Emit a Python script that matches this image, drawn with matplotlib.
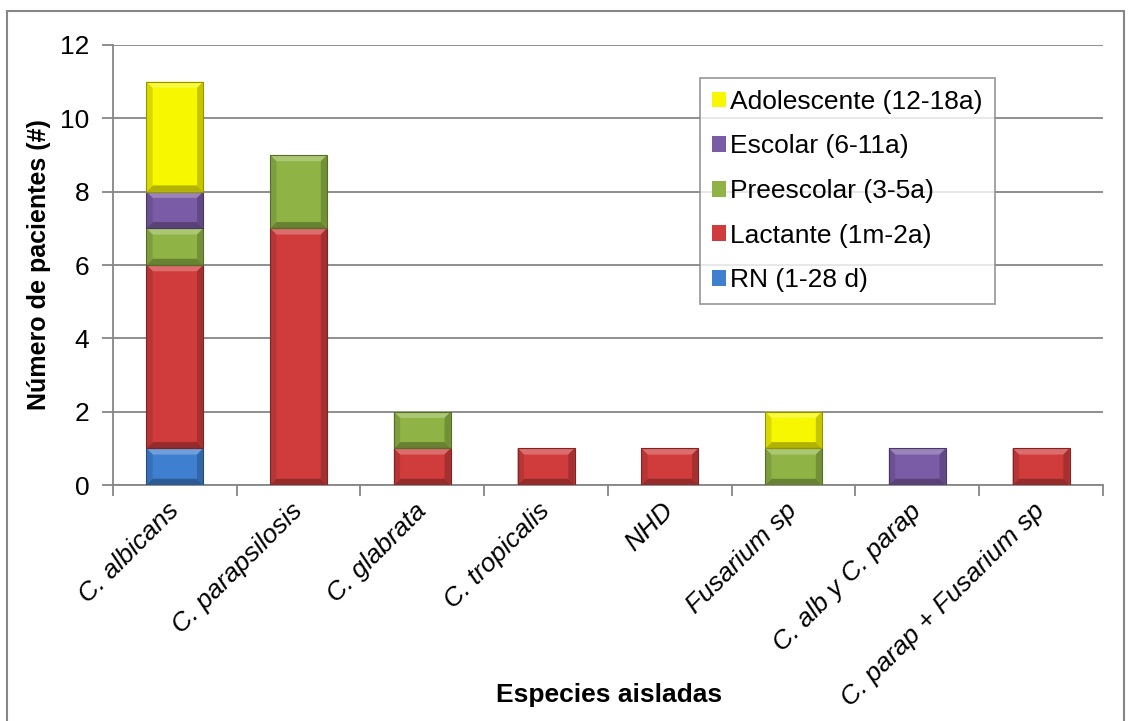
import matplotlib.pyplot as plt
import matplotlib.colors as mcolors
from matplotlib.patches import Polygon, Rectangle

plt.rcParams["font.family"] = ["Liberation Sans", "DejaVu Sans"]

species = ["C. albicans", "C. parapsilosis", "C. glabrata", "C. tropicalis",
           "NHD", "Fusarium sp", "C. alb y C. parap", "C. parap + Fusarium sp"]

rn = [1, 0, 0, 0, 0, 0, 0, 0]
lactante = [5, 7, 1, 1, 1, 0, 0, 1]
preescolar = [1, 2, 1, 0, 0, 1, 0, 0]
escolar = [1, 0, 0, 0, 0, 0, 1, 0]
adolescente = [3, 0, 0, 0, 0, 1, 0, 0]

groups = [
    ("RN (1-28 d)", rn, "#3f7fcf"),
    ("Lactante (1m-2a)", lactante, "#d03c3c"),
    ("Preescolar (3-5a)", preescolar, "#8fb445"),
    ("Escolar (6-11a)", escolar, "#7a5ba6"),
    ("Adolescente (12-18a)", adolescente, "#f7f700"),
]

GRID = "#868686"


def shade(color, f):
    r, g, b = mcolors.to_rgb(color)
    if f >= 1:
        return (r + (1 - r) * (f - 1), g + (1 - g) * (f - 1), b + (1 - b) * (f - 1))
    return (r * f, g * f, b * f)


def bevel(ax, patch, color):
    # soft raised look: light top edge, darker sides and bottom
    x0, y0 = patch.get_x(), patch.get_y()
    w, h = patch.get_width(), patch.get_height()
    if h <= 0:
        return
    x1, y1 = x0 + w, y0 + h
    dx, dy = w * 0.11, min(0.17, h * 0.3)
    faces = [
        ([(x0, y1), (x1, y1), (x1 - dx, y1 - dy), (x0 + dx, y1 - dy)], shade(color, 1.25)),
        ([(x0, y0), (x1, y0), (x1 - dx, y0 + dy), (x0 + dx, y0 + dy)], shade(color, 0.72)),
        ([(x0, y0), (x0, y1), (x0 + dx, y1 - dy), (x0 + dx, y0 + dy)], shade(color, 0.88)),
        ([(x1, y0), (x1, y1), (x1 - dx, y1 - dy), (x1 - dx, y0 + dy)], shade(color, 0.8)),
    ]
    for pts, c in faces:
        ax.add_patch(Polygon(pts, closed=True, facecolor=c, edgecolor="none", zorder=3))
    ax.add_patch(Rectangle((x0, y0), w, h, facecolor="none",
                           edgecolor=shade(color, 0.6), lw=0.8, zorder=4))


fig = plt.figure(figsize=(11.33, 7.21), dpi=100)
ax = fig.add_axes([0.0997, 0.3273, 0.8738, 0.6103])

x = range(len(species))
bottom = [0] * len(species)
handles = []
for label, vals, color in groups:
    bars = ax.bar(x, vals, 0.46, bottom=bottom, color=color, label=label, zorder=2)
    for p in bars:
        bevel(ax, p, color)
    bottom = [b + v for b, v in zip(bottom, vals)]
    handles.append(bars)

ax.set_xlim(-0.5, len(species) - 0.5)
ax.set_ylim(0, 12)
ax.set_yticks(range(0, 13, 2))
ax.yaxis.grid(True, color=GRID, lw=1.3)
ax.set_axisbelow(True)

for s in ["top", "right"]:
    ax.spines[s].set_visible(False)
for s in ["left", "bottom"]:
    ax.spines[s].set_color(GRID)
    ax.spines[s].set_linewidth(1.3)

ax.tick_params(axis="y", length=8, width=1.3, color=GRID, labelsize=19, pad=9)
ax.set_xticks(list(x))
ax.set_xticklabels(species, rotation=45, ha="right", va="center",
                   rotation_mode="anchor", fontsize=19, style="italic")
ax.tick_params(axis="x", length=0, pad=16)
ax.set_xticks([i - 0.5 for i in range(len(species) + 1)], minor=True)
ax.tick_params(axis="x", which="minor", length=8, width=1.3, color=GRID)

ax.set_ylabel("Número de pacientes (#)", fontsize=18, fontweight="bold")
ax.yaxis.set_label_coords(-0.063, 0.5)
fig.text(0.538, 0.036, "Especies aisladas", fontsize=19, fontweight="bold",
         ha="center", va="center")

leg = ax.legend(handles[::-1], [g[0] for g in groups][::-1], loc="upper left",
                bbox_to_anchor=(0.593, 0.925), borderaxespad=0, fontsize=19,
                frameon=True, fancybox=False, handlelength=0.55, handleheight=0.55,
                handletextpad=0.15, labelspacing=0.78, borderpad=0.45)
leg.get_frame().set_edgecolor(GRID)
leg.get_frame().set_linewidth(1.3)

fig.patches.append(Rectangle((0.0062, -0.05), 0.986, 1.0353, transform=fig.transFigure,
                             fill=False, edgecolor=GRID, lw=1.5))

fig.savefig("out.png", dpi=100)
